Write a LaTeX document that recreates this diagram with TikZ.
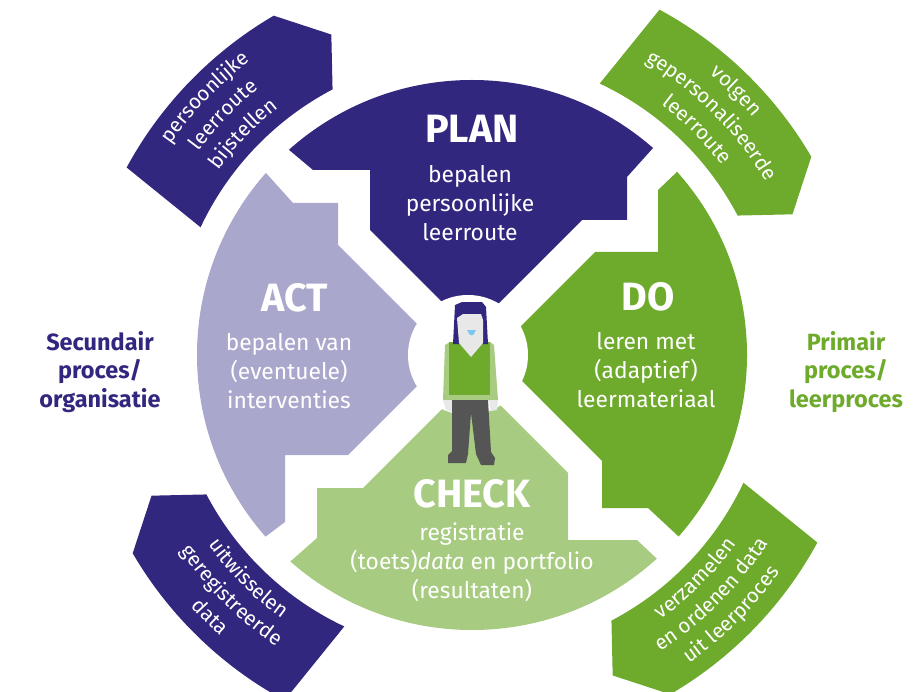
\documentclass[tikz,border=0pt]{standalone}
\usepackage{fontspec}
\setmainfont{Fira Sans}
\usetikzlibrary{decorations.text}

\definecolor{planpurple}{RGB}{50,39,126}
\definecolor{actlilac}{RGB}{169,168,204}
\definecolor{dogreen}{RGB}{110,170,44}
\definecolor{checkgreen}{RGB}{167,203,128}
\definecolor{trousergrey}{RGB}{85,85,85}
\definecolor{skin}{RGB}{232,232,232}
\definecolor{mouthblue}{RGB}{120,200,240}

\newcommand{\bodyfont}{\fontsize{22.8}{28.8}\selectfont}
\newcommand{\titlefont}{\fontsize{39.5}{42}\selectfont\bfseries}
\newcommand{\cornerfont}{\fontsize{20.5}{24}\selectfont}
\newcommand{\sidefont}{\fontsize{23.5}{28.8}\selectfont\bfseries}

\tikzset{
  phase/.style={text=white, font=\titlefont},
  phasetxt/.style={text=white, font=\bodyfont, align=center},
  sidelabel/.style={font=\sidefont, align=center},
  cornertext/.style={decorate, decoration={text along path, text align=center,
    text color=white, text={|\cornerfont|#1}}},
}

\begin{document}
\begin{tikzpicture}[x=1pt,y=1pt]
\useasboundingbox (0,0) rectangle (917,-692);

% the four phases, cut out of one disc
\begin{scope}
  \clip (472,-355) circle (275);
  \fill[planpurple] (238,-107) -- (313,-170) -- (370,-170) -- (370,-230) -- (471,-331)
    -- (582,-220) -- (627,-220) -- (627,-177) -- (653,-148) -- (705,-90) -- (705,-30)
    -- (238,-30) -- cycle;
  \fill[dogreen] (720,-131) -- (658,-190) -- (658,-252) -- (595,-252) -- (494,-353)
    -- (602,-461) -- (602,-508) -- (648,-508) -- (720,-575) -- (800,-575) -- (800,-131) -- cycle;
  \fill[checkgreen] (473,-378) -- (363,-488) -- (317,-488) -- (317,-538) -- (250,-597)
    -- (250,-700) -- (700,-700) -- (690,-590) -- (637,-540) -- (568,-540) -- (568,-473) -- cycle;
  \fill[actlilac] (230,-133) -- (293,-203) -- (338,-203) -- (338,-245) -- (448,-355)
    -- (348,-455) -- (285,-455) -- (285,-522) -- (225,-567) -- (150,-567) -- (150,-133) -- cycle;
\end{scope}
\fill[white] (468,-355) circle (60);

% outer arrows with curved text
\begin{scope}[shift={(472,-355)}]
  \foreach \r/\c in {0/planpurple, -90/dogreen, -180/dogreen, -270/planpurple}
    \fill[\c, rotate=\r] (151.5:393) arc[start angle=151.5, end angle=120.3, radius=393]
      -- (113.7:350) -- (117.7:300) arc[start angle=117.7, end angle=154.8, radius=300] -- cycle;

  \path[cornertext=persoonlijke] (166:368) arc[start angle=166, end angle=106, radius=368];
  \path[cornertext=leerroute] (166:341) arc[start angle=166, end angle=106, radius=341];
  \path[cornertext=bijstellen] (166:314) arc[start angle=166, end angle=106, radius=314];

  \path[cornertext=volgen] (75:368) arc[start angle=75, end angle=15, radius=368];
  \path[cornertext=gepersonaliseerde] (75:341) arc[start angle=75, end angle=15, radius=341];
  \path[cornertext=leerroute] (75:314) arc[start angle=75, end angle=15, radius=314];

  \path[cornertext=verzamelen] (-75:325) arc[start angle=-75, end angle=-15, radius=325];
  \path[cornertext=en ordenen data] (-75:351) arc[start angle=-75, end angle=-15, radius=351];
  \path[cornertext=uit leerproces] (-75:377) arc[start angle=-75, end angle=-15, radius=377];

  \path[cornertext=uitwisselen] (-165:325) arc[start angle=-165, end angle=-105, radius=325];
  \path[cornertext=geregistreerde] (-165:351) arc[start angle=-165, end angle=-105, radius=351];
  \path[cornertext=data] (-165:377) arc[start angle=-165, end angle=-105, radius=377];
\end{scope}

% person in the middle
\fill[checkgreen] (445,-345) -- (450,-342) -- (490,-342) -- (494,-345) -- (498,-400) -- (443,-400) -- cycle;
\fill[dogreen] (449,-342) rectangle (490,-395);
\fill[skin] (443,-400) -- (452,-400) -- (452,-412) -- (446,-410) -- cycle;
\fill[skin] (489,-400) -- (498,-400) -- (497,-410) -- (491,-411) -- cycle;
\fill[trousergrey] (452,-400) -- (488,-400) -- (491,-452) -- (495,-458) -- (494,-465) -- (481,-465)
  -- (476,-454) -- (471,-413) -- (468,-454) -- (466,-463) -- (448,-463) -- (448,-455) -- (452,-451) -- cycle;
\fill[planpurple] (455,-305) -- (462,-302) -- (482,-302) -- (486,-307) -- (488,-344) -- (453,-344) -- cycle;
\fill[skin] (457,-318) -- (463,-314) -- (481,-314) -- (483,-320) -- (483,-343) -- (471,-357) -- (459,-343) -- cycle;
\fill[mouthblue] (467,-330) -- (476,-330) -- (473,-335) -- (470,-335) -- cycle;

% phase titles and texts
\node[phase] (plan) at (472,-129) {PLAN};
\node[phasetxt] (plantxt) at (470,-203) {bepalen\\persoonlijke\\leerroute};
\node[phase] (do) at (648,-297) {DO};
\node[phasetxt] (dotxt) at (646,-370) {leren met\\(adaptief)\\leermateriaal};
\node[phase] (act) at (295,-298) {ACT};
\node[phasetxt] (acttxt) at (289,-371) {bepalen van\\(eventuele)\\interventies};
\node[phase] (check) at (472,-494) {CHECK};
\node[phasetxt] (checktxt) at (472,-562) {registratie\\(toets)\textit{data} en portfolio\\(resultaten)};

\node[sidelabel, text=planpurple] (secundair) at (100,-372) {Secundair\\proces/\\organisatie};
\node[sidelabel, text=dogreen] (primair) at (846,-372) {Primair\\proces/\\leerproces};
\end{tikzpicture}
\end{document}
